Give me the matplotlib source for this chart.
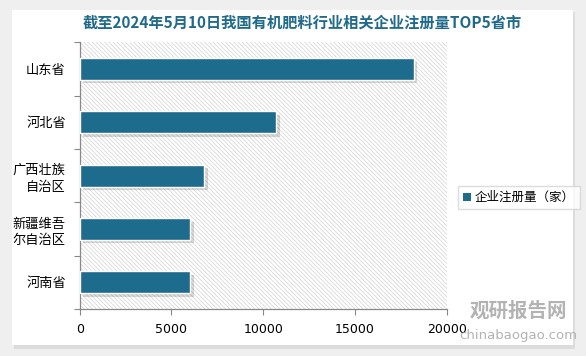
import matplotlib
matplotlib.use("Agg")
import matplotlib.pyplot as plt
import matplotlib.patheffects as pe
from matplotlib.patches import Rectangle, Patch

plt.rcParams['font.family'] = ['Noto Sans CJK SC', 'DejaVu Sans']
plt.rcParams['hatch.color'] = '#d2d2d2'
plt.rcParams['hatch.linewidth'] = 0.5

title = "截至2024年5月10日我国有机肥料行业相关企业注册量TOP5省市"
categories = ["山东省", "河北省", "广西壮族\n自治区", "新疆维吾\n尔自治区", "河南省"]
values = [18200, 10700, 6790, 6030, 6020]
series_name = "企业注册量（家）"
xticks = [0, 5000, 10000, 15000, 20000]

bar_color = "#1d6b8d"

fig = plt.figure(figsize=(5.86, 3.56), dpi=100)
fig.patch.set_facecolor("#efefef")

# white card with shadow
bg = fig.add_axes([0, 0, 1, 1], zorder=-10)
bg.set_axis_off()
bg.set_xlim(0, 586)
bg.set_ylim(356, 0)
bg.add_patch(Rectangle((14, 12), 561, 337, facecolor="#dcdcdc", edgecolor="none"))
bg.add_patch(Rectangle((12, 10), 561, 335, facecolor="white", edgecolor="none"))

ax = fig.add_axes([79.7/586, 1 - 309/356, 367/586, 266.7/356], zorder=1)
ax.set_facecolor("white")
ax.add_patch(Rectangle((0, 0), 1, 1, transform=ax.transAxes, facecolor="white",
                       edgecolor="#d2d2d2", hatch="\\\\\\\\\\\\\\\\", linewidth=0, zorder=0))

n = len(categories)
ypos = list(range(n))
bars = ax.barh(ypos, values, height=0.41, color=bar_color, edgecolor="white",
               linewidth=1.0, zorder=3)
for b in bars:
    b.set_path_effects([pe.SimplePatchShadow(offset=(2.5, -2.5), shadow_rgbFace="#000000", alpha=0.15),
                        pe.Normal()])

ax.set_ylim(n - 0.5, -0.5)
ax.set_xlim(0, 20000)
ax.set_yticks(ypos)
ax.set_yticklabels(categories, fontsize=9.5, linespacing=1.35)
ax.tick_params(axis='y', which='major', length=0, pad=10)
ax.set_yticks([i - 0.5 for i in range(n + 1)], minor=True)
ax.tick_params(axis='y', which='minor', length=4, color="#888888", width=0.8)
ax.set_xticks(xticks)
ax.set_xticklabels([str(v) for v in xticks], fontsize=9, family=['DejaVu Sans'])
ax.tick_params(axis='x', length=4, color="#888888", width=0.8, pad=6)

for s in ["top", "right"]:
    ax.spines[s].set_visible(False)
for s in ["left", "bottom"]:
    ax.spines[s].set_color("#888888")
    ax.spines[s].set_linewidth(0.9)

fig.text(302/586, 1 - 23/356, title, ha="center", va="center", fontsize=11,
         fontweight="bold", color="#1f6a8a")

leg = fig.legend(handles=[Patch(facecolor=bar_color, edgecolor="none", label=series_name)],
                 loc="center left", bbox_to_anchor=(452/586, 1 - 197.7/356),
                 bbox_transform=fig.transFigure, fontsize=9, frameon=True,
                 fancybox=False, edgecolor="#d4d4d4", handlelength=0.6, handleheight=0.6,
                 handletextpad=0.3, borderpad=0.4)
leg.get_frame().set_linewidth(1.0)

# watermark
fig.text(518/586, 1 - 311/356, "观研报告网", ha="center", va="center", fontsize=14,
         fontweight="bold", color="#a0a0a0", alpha=0.8, zorder=5)
fig.text(518/586, 1 - 336/356, "chinabaogao.com", ha="center", va="center", fontsize=9.5,
         color="#a0a0a0", alpha=0.8, family=['DejaVu Sans'], zorder=5)

fig.savefig("out.png", dpi=100, facecolor=fig.get_facecolor())
